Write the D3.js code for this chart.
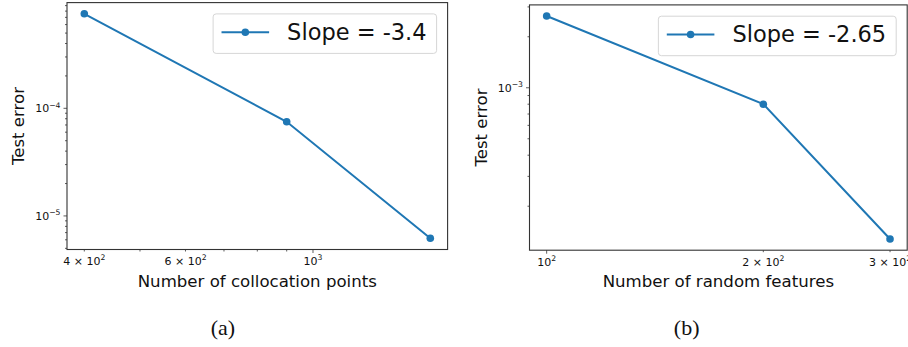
<!DOCTYPE html>
<html>
<head>
<meta charset="utf-8">
<script src="https://cdn.jsdelivr.net/npm/d3@7"></script>
<style>
  body { margin: 0; background: #fff; }
  svg { display: block; }
</style>
</head>
<body>
<div id="chart"></div>
<script>
// ---- data ----
const collocPoints = [400, 900, 1600];
const collocError = [7.55e-4, 7.5e-5, 6.2e-6];
const featureCounts = [100, 200, 300];
const featureError = [2.65e-3, 8.0e-4, 1.28e-4];
const slopeLabels = ["Slope = -3.4", "Slope = -2.65"];
const captions = ["(a)", "(b)"];

// tick values, [value, mantissa label or null, exponent] ; minor ticks w/o label
const xTicksA = [[400, "4", 2], [500], [600, "6", 2], [700], [800], [900], [1000, null, 3]];
const yTicksA = [[5e-6], [6e-6], [7e-6], [8e-6], [9e-6], [1e-5, null, -5],
  [2e-5], [3e-5], [4e-5], [5e-5], [6e-5], [7e-5], [8e-5], [9e-5], [1e-4, null, -4],
  [2e-4], [3e-4], [4e-4], [5e-4], [6e-4], [7e-4], [8e-4], [9e-4]];
const xTicksB = [[100, null, 2], [200, "2", 2], [300, "3", 2]];
const yTicksB = [[2e-4], [3e-4], [4e-4], [5e-4], [6e-4], [7e-4], [8e-4], [9e-4],
  [1e-3, null, -3], [2e-3], [3e-3]];

const width = 908;
const height = 347;

const LINE_COLOR = "#1f77b4";
const SPINE_COLOR = "#333";
const FONT = "DejaVu Sans, sans-serif";

const svg = d3.select("#chart").append("svg")
  .attr("width", width)
  .attr("height", height);

// panel boxes (axes area)
const panels = [
  { left: 67, right: 447.6, top: 2.6, bottom: 249.5, xs: collocPoints, ys: collocError,
    xTicks: xTicksA, yTicks: yTicksA, xLabel: "Number of collocation points",
    yLabelX: 24, caption: captions[0], capX: 223, slope: slopeLabels[0] },
  { left: 529.5, right: 907.2, top: 4.9, bottom: 250.2, xs: featureCounts, ys: featureError,
    xTicks: xTicksB, yTicks: yTicksB, xLabel: "Number of random features",
    yLabelX: 487, caption: captions[1], capX: 686.7, slope: slopeLabels[1] }
];

// log domain with matplotlib-like 5% margins
function paddedLogDomain(vals) {
  const lo = Math.log10(d3.min(vals)), hi = Math.log10(d3.max(vals));
  const m = (hi - lo) * 0.05;
  return [Math.pow(10, lo - m), Math.pow(10, hi + m)];
}

function addPow(textSel, mant, exp, size) {
  textSel.text(null);
  if (mant) {
    textSel.append("tspan").text(mant + " \u00d7 10");
  } else {
    textSel.append("tspan").text("10");
  }
  textSel.append("tspan")
    .attr("dy", -size * 0.42)
    .style("font-size", (size * 0.7) + "px")
    .text(String(exp).replace("-", "\u2212"));
}

panels.forEach((p) => {
  const x = d3.scaleLog().domain(paddedLogDomain(p.xs)).range([p.left, p.right]);
  const y = d3.scaleLog().domain(paddedLogDomain(p.ys)).range([p.bottom, p.top]);
  const g = svg.append("g");

  // ticks x
  const xt = g.append("g").selectAll("g").data(p.xTicks).enter().append("g");
  xt.append("line")
    .attr("x1", (d) => x(d[0])).attr("x2", (d) => x(d[0]))
    .attr("y1", p.bottom).attr("y2", (d) => p.bottom + (d[1] === null ? 3.5 : 2))
    .attr("stroke", SPINE_COLOR).attr("stroke-width", 0.8);
  xt.filter((d) => d.length > 1).append("text")
    .attr("x", (d) => x(d[0]))
    .attr("y", p.bottom + 15.5)
    .attr("text-anchor", "middle")
    .style("font-family", FONT).style("font-size", "11px").style("fill", "#111")
    .each(function (d) { addPow(d3.select(this), d[1], d[2], 11); });

  // ticks y
  const yt = g.append("g").selectAll("g").data(p.yTicks).enter().append("g");
  yt.append("line")
    .attr("y1", (d) => y(d[0])).attr("y2", (d) => y(d[0]))
    .attr("x1", p.left).attr("x2", (d) => p.left - (d.length > 1 ? 3.5 : 2))
    .attr("stroke", SPINE_COLOR).attr("stroke-width", 0.8);
  yt.filter((d) => d.length > 1).append("text")
    .attr("x", p.left - 6.5)
    .attr("y", (d) => y(d[0]) + 4)
    .attr("text-anchor", "end")
    .style("font-family", FONT).style("font-size", "11px").style("fill", "#111")
    .each(function (d) { addPow(d3.select(this), null, d[2], 11); });

  // frame
  g.append("rect")
    .attr("x", p.left).attr("y", p.top)
    .attr("width", p.right - p.left).attr("height", p.bottom - p.top)
    .attr("fill", "none").attr("stroke", SPINE_COLOR).attr("stroke-width", 1.1);

  // data line + markers
  const pts = p.xs.map((v, i) => [v, p.ys[i]]);
  g.append("path")
    .attr("d", d3.line().x((d) => x(d[0])).y((d) => y(d[1]))(pts))
    .attr("fill", "none").attr("stroke", LINE_COLOR).attr("stroke-width", 2);
  g.append("g").selectAll("circle").data(pts).enter().append("circle")
    .attr("cx", (d) => x(d[0])).attr("cy", (d) => y(d[1])).attr("r", 3.8)
    .attr("fill", LINE_COLOR);

  // axis labels
  g.append("text")
    .attr("x", (p.left + p.right) / 2).attr("y", p.bottom + 37)
    .attr("text-anchor", "middle")
    .style("font-family", FONT).style("font-size", "16.6px").style("fill", "#111")
    .text(p.xLabel);
  const cy = (p.top + p.bottom) / 2;
  g.append("text")
    .attr("transform", `translate(${p.yLabelX},${cy}) rotate(-90)`)
    .attr("text-anchor", "middle")
    .style("font-family", FONT).style("font-size", "16.6px").style("fill", "#111")
    .text("Test error");

  // legend (upper right)
  const leg = g.append("g");
  const boxRight = p.right - 11;
  const boxTop = p.top + 11.3;
  const txt = leg.append("text")
    .attr("y", boxTop + 26)
    .style("font-family", FONT).style("font-size", "22.5px").style("fill", "#111")
    .text(p.slope);
  const tw = txt.node().getComputedTextLength();
  const textStart = boxRight - 10 - tw;
  txt.attr("x", textStart);
  const lineEnd = textStart - 18, lineStart = lineEnd - 47.6;
  leg.insert("rect", "text")
    .attr("x", lineStart - 8.4).attr("y", boxTop)
    .attr("width", boxRight - (lineStart - 8.4)).attr("height", 39.5)
    .attr("rx", 3).attr("fill", "white").attr("fill-opacity", 0.8)
    .attr("stroke", "#d6d6d6").attr("stroke-width", 1);
  leg.append("line")
    .attr("x1", lineStart).attr("x2", lineEnd)
    .attr("y1", boxTop + 18.3).attr("y2", boxTop + 18.3)
    .attr("stroke", LINE_COLOR).attr("stroke-width", 2);
  leg.append("circle")
    .attr("cx", (lineStart + lineEnd) / 2).attr("cy", boxTop + 18.3).attr("r", 3.8)
    .attr("fill", LINE_COLOR);

  // caption
  svg.append("text")
    .attr("x", p.capX).attr("y", 335)
    .attr("text-anchor", "middle")
    .style("font-family", "Liberation Serif, serif").style("font-size", "22px").style("fill", "#111")
    .text(p.caption);
});
</script>
</body>
</html>
